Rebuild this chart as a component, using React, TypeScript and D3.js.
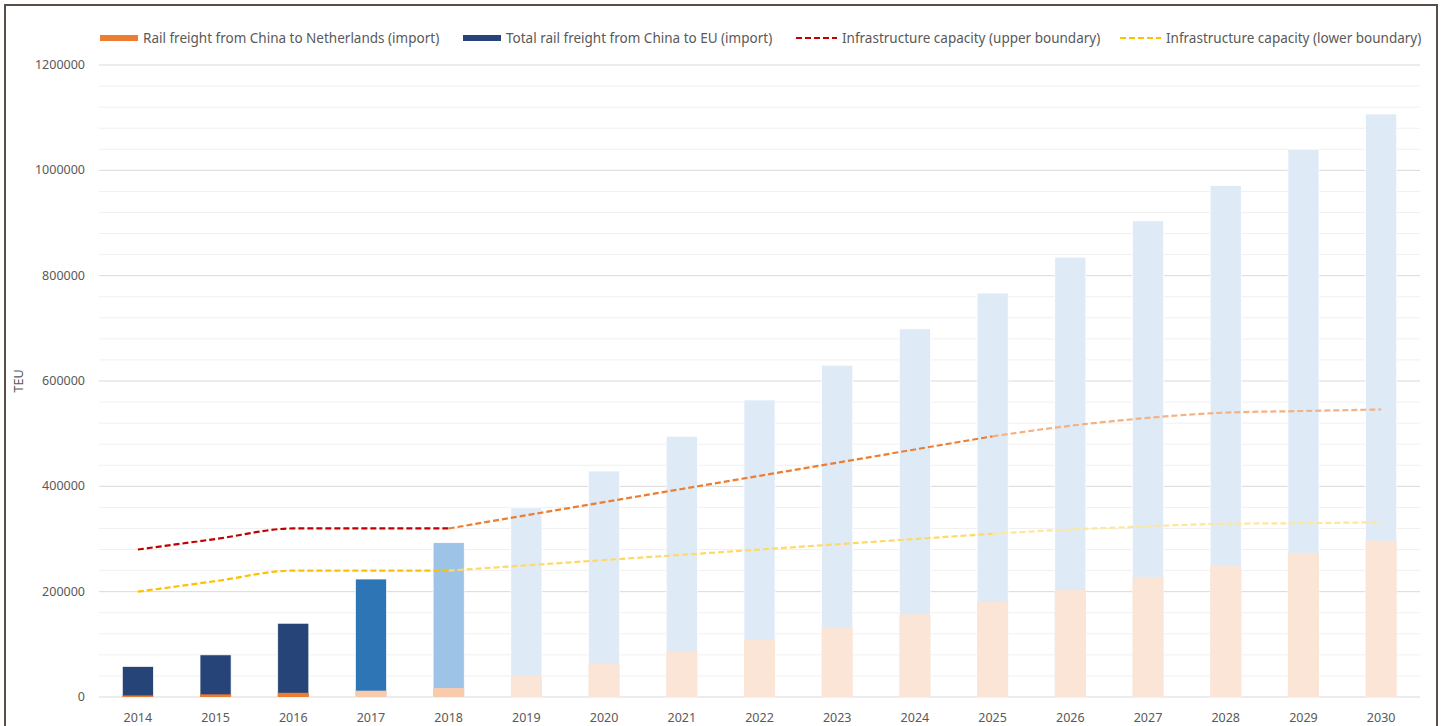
import React from "react";
import * as d3 from "d3";

const years = ["2014", "2015", "2016", "2017", "2018", "2019", "2020", "2021", "2022", "2023", "2024", "2025", "2026", "2027", "2028", "2029", "2030"];
const euTotal = [58000, 80000, 140000, 224000, 293000, 359000, 429000, 495000, 564000, 630000, 699000, 767000, 835000, 904000, 971000, 1040000, 1107000];
const nlRail = [3000, 5000, 8000, 12000, 17000, 40000, 63000, 87000, 110000, 133000, 157000, 180000, 203000, 228000, 250000, 273000, 297000];
const upperCap = [280000, 300000, 320000, 320000, 320000, 345000, 370000, 395000, 420000, 445000, 470000, 495000, 515000, 530000, 540000, 543000, 546000];
const lowerCap = [200000, 220000, 240000, 240000, 240000, 250000, 260000, 270000, 280000, 290000, 300000, 310000, 318000, 324000, 329000, 330000, 332000];
const yTicks = [0, 200000, 400000, 600000, 800000, 1000000, 1200000];

// colour phases: actual (to 2016), recent (2017), estimate (2018), forecast (2019+)
const euColor = (i: number) => (i <= 2 ? "#264478" : i === 3 ? "#2E75B6" : i === 4 ? "#9DC3E6" : "#DEEBF7");
const nlColor = (i: number) => (i <= 2 ? "#ED7D31" : i <= 4 ? "#F8CBAD" : "#FBE5D6");

const W = 1445, H = 726;
const left = 99, right = 1420, top = 65, bottom = 697;

const App = () => {
  const x = d3.scaleBand().domain(years).range([left, right]).paddingInner(0.6).paddingOuter(0.3);
  const xc = d3.scalePoint().domain(years).range([left, right]).padding(0.5);
  const y = d3.scaleLinear().domain([0, 1200000]).range([bottom, top]);
  const minor = d3.range(0, 1200001, 40000);

  const segs = (vals: number[], colors: string[]) => {
    const parts = [[0, 4], [4, 11], [11, 16]];
    return parts.map(([a, b], k) => {
      const pts = d3.range(a, b + 1).map((i) => [xc(years[i])!, y(vals[i])] as [number, number]);
      const gen = d3.line().curve(d3.curveMonotoneX);
      return <path key={k} d={gen(pts)!} fill="none" stroke={colors[k]} strokeWidth={2.2} strokeDasharray="6,3" />;
    });
  };

  const txt = "#595959";
  const font = "'Noto Sans', sans-serif";

  return (
    <svg width={W} height={H} style={{ position: "absolute", left: 0, top: 0, background: "#fff" }} fontFamily={font}>
      <rect x={5} y={5} width={1432} height={730} fill="#fff" stroke="#5a4f45" strokeWidth={2} />
      {minor.map((v) => (
        <line key={v} x1={left} x2={right} y1={y(v)} y2={y(v)} stroke={v % 200000 === 0 ? "#d9d9d9" : "#f0f0f0"} strokeWidth={1} />
      ))}
      {yTicks.map((v) => (
        <text key={v} x={85} y={y(v) + 4} textAnchor="end" fontSize={12.5} fill={txt}>{v}</text>
      ))}
      <text transform={`translate(23,${(top + bottom) / 2}) rotate(-90)`} textAnchor="middle" fontSize={12.5} fill={txt}>TEU</text>
      {years.map((yr, i) => (
        <g key={yr}>
          <rect x={x(yr)} y={y(euTotal[i])} width={x.bandwidth()} height={bottom - y(euTotal[i])} fill={euColor(i)} stroke="#fff" strokeWidth={0.7} />
          <rect x={x(yr)} y={y(nlRail[i])} width={x.bandwidth()} height={bottom - y(nlRail[i])} fill={nlColor(i)} />
          <text x={xc(yr)} y={722} textAnchor="middle" fontSize={12.5} fill={txt}>{yr}</text>
        </g>
      ))}
      {segs(upperCap, ["#C00000", "#ED7D31", "#F4B183"])}
      {segs(lowerCap, ["#FFC000", "#FFD966", "#FFE699"])}
      <g fontSize={13.5} fill={txt}>
        <rect x={100} y={35} width={38} height={6} fill="#ED7D31" />
        <text x={143} y={43}>Rail freight from China to Netherlands (import)</text>
        <rect x={463} y={35} width={38} height={6} fill="#264478" />
        <text x={506} y={43}>Total rail freight from China to EU (import)</text>
        <line x1={796} x2={837} y1={38} y2={38} stroke="#C00000" strokeWidth={2} strokeDasharray="6,3" />
        <text x={842} y={43}>Infrastructure capacity (upper boundary)</text>
        <line x1={1120} x2={1161} y1={38} y2={38} stroke="#FFC000" strokeWidth={2} strokeDasharray="6,3" />
        <text x={1166} y={43}>Infrastructure capacity (lower boundary)</text>
      </g>
    </svg>
  );
};

export default App;
